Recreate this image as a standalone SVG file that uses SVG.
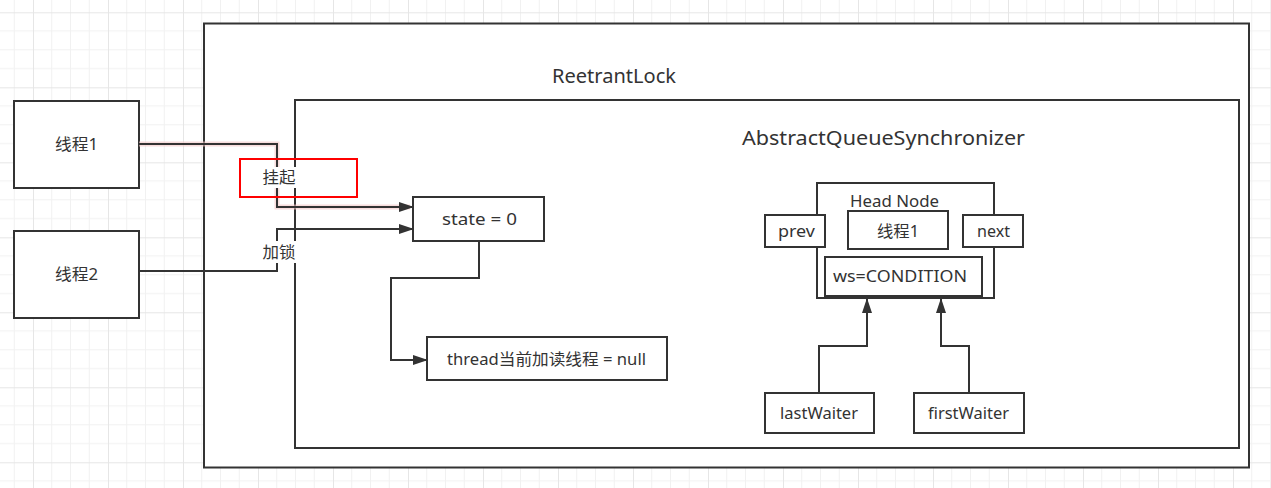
<svg xmlns="http://www.w3.org/2000/svg" width="1271" height="488" viewBox="0 0 1271 488">
<style>
.box{fill:#fff;stroke:#333;stroke-width:2}
.ln{fill:none;stroke:#333;stroke-width:2}
.t{font-family:"Noto Sans","Noto Sans CJK SC",sans-serif;font-size:16px;fill:#333;text-anchor:middle}
.big{font-size:20px}
</style>
<defs>
<pattern id="grid" patternUnits="userSpaceOnUse" x="33" y="12.3" width="75" height="75">
<path d="M18.75 0V75M37.5 0V75M56.25 0V75M0 18.75H75M0 37.5H75M0 56.25H75" stroke="#f1f1f1" stroke-width="1" fill="none"/>
<path d="M0.5 0V75M0 0.5H75" stroke="#e6e6e6" stroke-width="1" fill="none"/>
</pattern>
<marker id="arr" viewBox="0 0 15 10" refX="14" refY="5" markerWidth="15" markerHeight="10" markerUnits="userSpaceOnUse" orient="auto">
<path d="M0 0L15 5L0 10z" fill="#333"/>
</marker>
</defs>
<rect width="1271" height="488" fill="#fff"/>
<rect width="1271" height="488" fill="url(#grid)"/>

<g id="reentrantlock">
<rect class="box" x="204" y="23.5" width="1045" height="444"/>
<text class="t big" x="614" y="83" textLength="124" lengthAdjust="spacingAndGlyphs">ReetrantLock</text>
</g>
<g id="aqs">
<rect class="box" x="295" y="100" width="944" height="348"/>
<text class="t big" x="883.5" y="145" textLength="283" lengthAdjust="spacingAndGlyphs">AbstractQueueSynchronizer</text>
</g>
<g id="thread1">
<rect class="box" x="14" y="101" width="125" height="87"/>
<text class="t" x="76.5" y="150" textLength="43" lengthAdjust="spacingAndGlyphs">线程1</text>
</g>
<g id="thread2">
<rect class="box" x="14" y="231" width="125" height="87"/>
<text class="t" x="76.5" y="280" textLength="43" lengthAdjust="spacingAndGlyphs">线程2</text>
</g>
<g id="state">
<rect class="box" x="413" y="197" width="131" height="44"/>
<text class="t" x="479.5" y="225" textLength="75" lengthAdjust="spacingAndGlyphs">state = 0</text>
</g>
<g id="thread">
<rect class="box" x="427" y="337" width="240" height="43"/>
<text class="t" x="546.5" y="365" textLength="199" lengthAdjust="spacingAndGlyphs">thread当前加读线程 = null</text>
</g>
<g id="headnode">
<rect class="box" x="817" y="183" width="177" height="115"/>
<text class="t" x="894.5" y="207" textLength="89" lengthAdjust="spacingAndGlyphs">Head Node</text>
</g>
<g id="prev">
<rect class="box" x="765" y="215" width="60" height="32"/>
<text class="t" x="796.5" y="237" textLength="37" lengthAdjust="spacingAndGlyphs">prev</text>
</g>
<g id="headthread">
<rect class="box" x="848" y="211" width="100" height="38"/>
<text class="t" x="898" y="237" textLength="42" lengthAdjust="spacingAndGlyphs">线程1</text>
</g>
<g id="next">
<rect class="box" x="963" y="215" width="60" height="32"/>
<text class="t" x="993.5" y="237" textLength="33" lengthAdjust="spacingAndGlyphs">next</text>
</g>
<g id="ws">
<rect class="box" x="825" y="257" width="157" height="39"/>
<text class="t" x="900" y="282" textLength="134" lengthAdjust="spacingAndGlyphs">ws=CONDITION</text>
</g>
<g id="lastWaiter">
<rect class="box" x="765" y="393" width="109" height="40"/>
<text class="t" x="819" y="419" textLength="78" lengthAdjust="spacingAndGlyphs">lastWaiter</text>
</g>
<g id="firstWaiter">
<rect class="box" x="914" y="393" width="110" height="40"/>
<text class="t" x="968.5" y="419" textLength="81" lengthAdjust="spacingAndGlyphs">firstWaiter</text>
</g>

<g id="connectors">
<path d="M139 144H277V207H410" fill="none" stroke="#f3c6c6" stroke-width="5" opacity="0.6"/>
<path class="ln" d="M139 144H277V207H413" marker-end="url(#arr)"/>
<path class="ln" d="M139 271H277V229H413" marker-end="url(#arr)"/>
<path class="ln" d="M479 241V278H391V360H427" marker-end="url(#arr)"/>
<path class="ln" d="M819 393V346H867V299" marker-end="url(#arr)"/>
<path class="ln" d="M969 393V346H941V299" marker-end="url(#arr)"/>
<rect x="262" y="167" width="34" height="21" fill="#fff"/>
<text class="t" x="279" y="183" textLength="33" lengthAdjust="spacingAndGlyphs">挂起</text>
<rect x="262" y="241" width="34" height="22" fill="#fff"/>
<text class="t" x="279" y="258" textLength="33" lengthAdjust="spacingAndGlyphs">加锁</text>
<rect x="240" y="159" width="117" height="38" fill="none" stroke="#ff0000" stroke-width="2"/>
</g>
</svg>
